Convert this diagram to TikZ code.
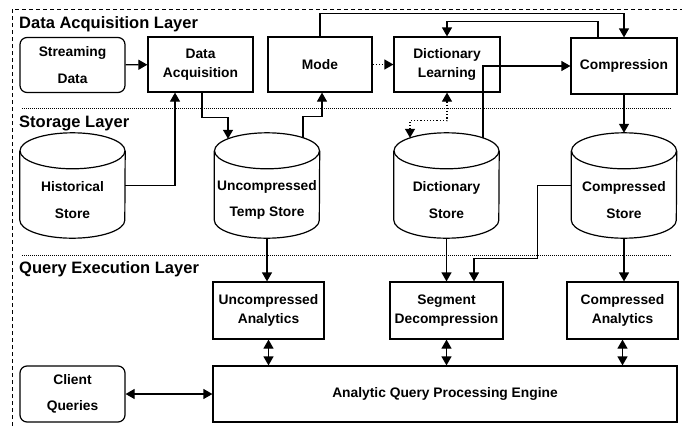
\documentclass[tikz,border=0pt]{standalone}
\usepackage{fontspec}
\setmainfont{Liberation Sans}
\usetikzlibrary{arrows.meta}

\begin{document}
\begin{tikzpicture}[x=1pt,y=-1pt]
        \tikzstyle{every node}=[font=\fontsize{13.8}{19.5}\selectfont\bfseries]
        \tikzstyle{box}=[draw, line width=1.2pt, align=center, inner sep=2pt]
        \tikzstyle{roundbox}=[box, rounded corners=7pt]
        \tikzstyle{store}=[minimum width=105pt, minimum height=105pt, inner sep=0pt]
        \tikzstyle{storetext}=[align=center, yshift=-14.5pt]
        \tikzstyle{layer}=[anchor=base west, inner sep=0pt, font=\fontsize{16.5}{20}\selectfont\bfseries]
        \tikzstyle{sep}=[line width=0.9pt, dash pattern=on 1pt off 1pt]
        \tikzstyle{arr}=[line width=1.2pt, -{Triangle[length=9pt,width=10pt]}]
        \tikzstyle{darr}=[line width=1.2pt, {Triangle[length=9pt,width=10pt]}-{Triangle[length=9pt,width=10pt]}]

        \useasboundingbox (0,0) rectangle (682,426);
        \draw[line width=1pt, dash pattern=on 4pt off 3pt] (12,426) -- (12,9) -- (682,9);

        % layers
        \node[layer] (acqlayer) at (19,28) {Data Acquisition Layer};
        \node[layer] (storelayer) at (19,127) {Storage Layer};
        \node[layer] (querylayer) at (19,273) {Query Execution Layer};
        \draw[sep] (22,108) -- (672,108);
        \draw[sep] (22,255) -- (672,255);

        % data acquisition
        \node[roundbox, minimum width=105pt, minimum height=55pt] (stream) at (72.5,65) {Streaming\\[7pt]Data};
        \node[box, minimum width=105pt, minimum height=55pt] (acq) at (200.5,64.5) {Data\\Acquisition};
        \node[box, minimum width=104pt, minimum height=55pt] (mode) at (320,64.5) {Mode};
        \node[box, minimum width=106pt, minimum height=55pt] (dictlearn) at (447,64.5) {Dictionary\\Learning};
        \node[box, minimum width=106pt, minimum height=56pt] (compress) at (624,66) {Compression};

        % storage
        \node[store, label={[storetext]center:Historical\\[7pt]Store}] (hist) at (72.5,185.5) {};
        \node[store, label={[storetext]center:Uncompressed\\[7pt]Temp Store}] (temp) at (267,185.5) {};
        \node[store, label={[storetext]center:Dictionary\\[7pt]Store}] (dictstore) at (446.5,185.5) {};
        \node[store, label={[storetext]center:Compressed\\[7pt]Store}] (cstore) at (624,185.5) {};
        \foreach \s in {hist,temp,dictstore,cstore}{
            \draw[line width=1.2pt] ([yshift=-18pt]\s.north) ellipse [x radius=52.5pt, y radius=18pt];
            \draw[line width=1.2pt] ([yshift=-18pt]\s.north west) -- ([yshift=18pt]\s.south west)
                arc[start angle=180, end angle=360, x radius=52.5pt, y radius=18pt] -- ([yshift=-18pt]\s.north east);
        }

        % query execution
        \node[box, minimum width=111pt, minimum height=57pt] (uana) at (268.5,310.5) {Uncompressed\\Analytics};
        \node[box, minimum width=113pt, minimum height=57pt] (segdec) at (446.5,310.5) {Segment\\Decompression};
        \node[box, minimum width=111pt, minimum height=57pt] (cana) at (622.5,310.5) {Compressed\\Analytics};
        \node[roundbox, minimum width=105pt, minimum height=56pt] (client) at (72.5,394) {Client\\[7pt]Queries};
        \node[box, minimum width=464pt, minimum height=56pt] (engine) at (445,394) {Analytic Query Processing Engine};

        % connectors
        \draw[arr] (stream) -- (acq);
        \draw[arr] (hist.east) -| ([xshift=-25.5pt]acq.south);
        \draw[arr] ([xshift=1.5pt]acq.south) -- ++(0,25) -| ([xshift=-39pt,yshift=-6pt]temp.north);
        \draw[arr] ([xshift=36pt,yshift=-5pt]temp.north) -- ++(0,-21) -| ([xshift=2pt]mode.south);
        \draw[arr] (mode.north) -- ++(0,-23) -| (compress.north);
        \draw[arr] ([xshift=-26pt]compress.north) -- ++(0,-16) -| (dictlearn.north);
        \draw[arr, dotted] (mode) -- (dictlearn);
        \draw[darr, dotted] (dictlearn.south) -- ++(0,28) -| ([xshift=-36.5pt,yshift=-5pt]dictstore.north);
        \draw[arr] ([xshift=36.5pt,yshift=-5pt]dictstore.north) |- (compress.west);
        \draw[arr] (compress.south) -- (cstore.north);
        \draw[arr] (temp.south) -- (temp.south |- uana.north);
        \draw[arr] (dictstore.south) -- (segdec.north);
        \draw[arr] (cstore.west) -- ++(-34,0) -- ++(0,73) -| ([xshift=27.5pt]segdec.north);
        \draw[arr] (cstore.south) -- (cstore.south |- cana.north);
        \draw[darr] (uana.south) -- (uana.south |- engine.north);
        \draw[darr] (segdec.south) -- (segdec.south |- engine.north);
        \draw[darr] (cana.south) -- (cana.south |- engine.north);
        \draw[darr] (client) -- (engine);
\end{tikzpicture}
\end{document}
